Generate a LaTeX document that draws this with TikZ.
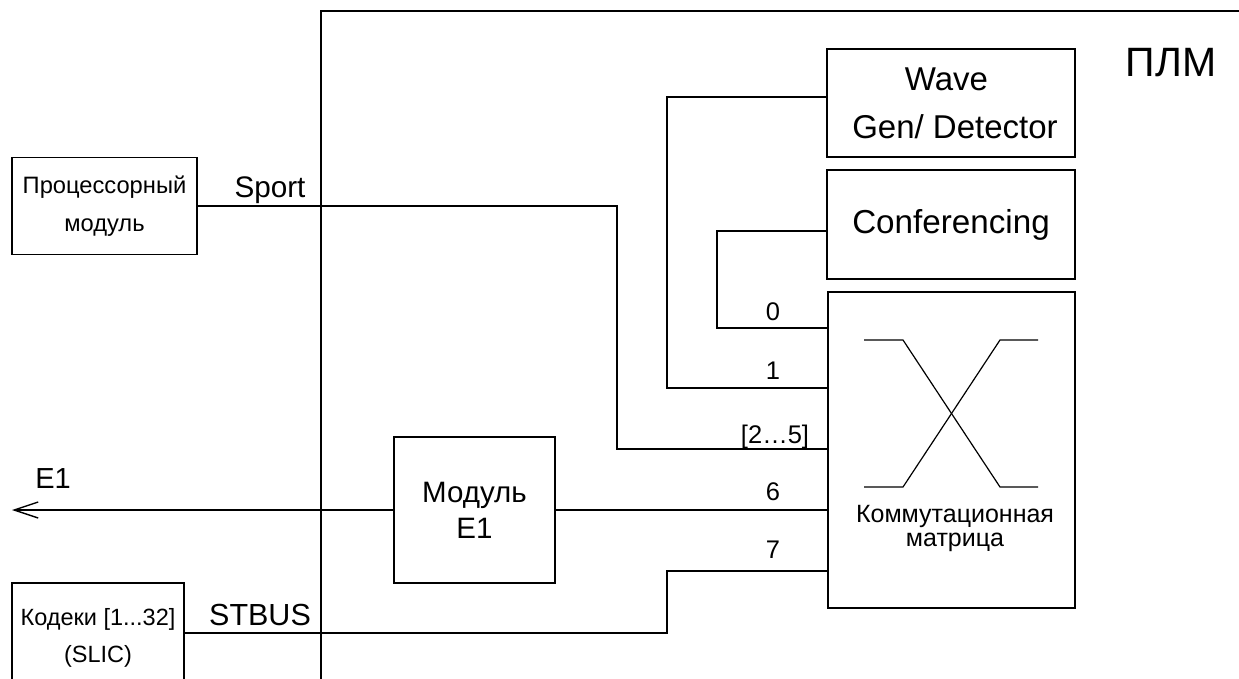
\documentclass[tikz,border=0pt]{standalone}
\usepackage{fontspec}
\setmainfont{Liberation Sans}
\usetikzlibrary{arrows.meta}
\begin{document}
\begin{tikzpicture}[x=1pt,y=-1pt,
  ln/.style={line width=1.4pt,black},
  blk/.style={draw,line width=1.4pt,rectangle,inner sep=0pt,align=center},
  txt/.style={inner sep=0pt,anchor=base}]
\clip (0,0) rectangle (1239,678);
\fill[white] (0,0) rectangle (1239,678);
% frame of PLM
\draw[ln] (321,700) -- (321,11) -- (1245,11);
\node[txt,font=\fontsize{41}{44}\selectfont] (plm) at (1171,76) {ПЛМ};
% boxes
\node[blk,minimum width=185,minimum height=97,font=\fontsize{23.7}{38}\selectfont] (proc) at (104.5,206) {Процессорный\\модуль};
\node[blk,minimum width=172,minimum height=140] (codec) at (98,653) {};
\node[txt,font=\fontsize{23.5}{23.5}\selectfont] (codect1) at (98,625) {Кодеки [1...32]};
\node[txt,font=\fontsize{23.5}{23.5}\selectfont] (codect2) at (98,662) {(SLIC)};
\node[blk,minimum width=161,minimum height=146,font=\fontsize{29.5}{36}\selectfont] (modul) at (474.5,510) {Модуль\\E1};
\node[blk,minimum width=248,minimum height=108,font=\fontsize{33}{48}\selectfont] (wave) at (951,103) {Wave\hspace*{9pt}\\\hspace*{8pt}Gen/ Detector};
\node[blk,minimum width=248,minimum height=109,font=\fontsize{33.2}{35}\selectfont] (conf) at (951,224.5) {Conferencing};
\node[blk,minimum width=247,minimum height=316] (matrix) at (951.5,450) {};
\node[txt,font=\fontsize{25}{25}\selectfont] (mt1) at (955,522) {Коммутационная};
\node[txt,font=\fontsize{25}{25}\selectfont] (mt2) at (955,546) {матрица};
% X symbol
\draw[line width=1.2pt] (864,340) -- (903,340) -- (1000,487) -- (1038,487);
\draw[line width=1.2pt] (1038,340) -- (1000,340) -- (903,487) -- (864,487);
% ports of matrix
\coordinate (p0) at (828,328);
\coordinate (p1) at (828,388);
\coordinate (p25) at (828,449);
\coordinate (p6) at (828,510);
\coordinate (p7) at (828,571);
\coordinate (e1end) at (12,510);
% connectors
\draw[ln] (proc.east) -- (617,206) -- (617,449) -- (p25);
\draw[ln] ([yshift=6pt]wave.west) -- (667,97) -- (667,388) -- (p1);
\draw[ln] ([yshift=-6.5pt]conf.west) -- (717,231) -- (717,328) -- (p0);
\draw[ln] (modul.east) -- (p6);
\draw[ln,-{Straight Barb[length=24pt,width=16pt,line width=1.4pt]}] (modul.west) -- (e1end);
\draw[ln] (184,633) -- (667,633) -- (667,571) -- (p7);
% labels
\node[txt,font=\fontsize{29.7}{29.7}\selectfont] (sport) at (270,197) {Sport};
\node[txt,font=\fontsize{30.5}{30.5}\selectfont] (stbus) at (260,625) {STBUS};
\node[txt,font=\fontsize{29}{29}\selectfont] (e1) at (53,488) {E1};
\node[txt,font=\fontsize{25.5}{25.5}\selectfont] (l0) at (773,320) {0};
\node[txt,font=\fontsize{25.5}{25.5}\selectfont] (l1) at (773,379) {1};
\node[txt,font=\fontsize{25.5}{25.5}\selectfont] (l25) at (775,443) {[2…5]};
\node[txt,font=\fontsize{25.5}{25.5}\selectfont] (l6) at (773,500) {6};
\node[txt,font=\fontsize{25.5}{25.5}\selectfont] (l7) at (773,558) {7};
\end{tikzpicture}
\end{document}
